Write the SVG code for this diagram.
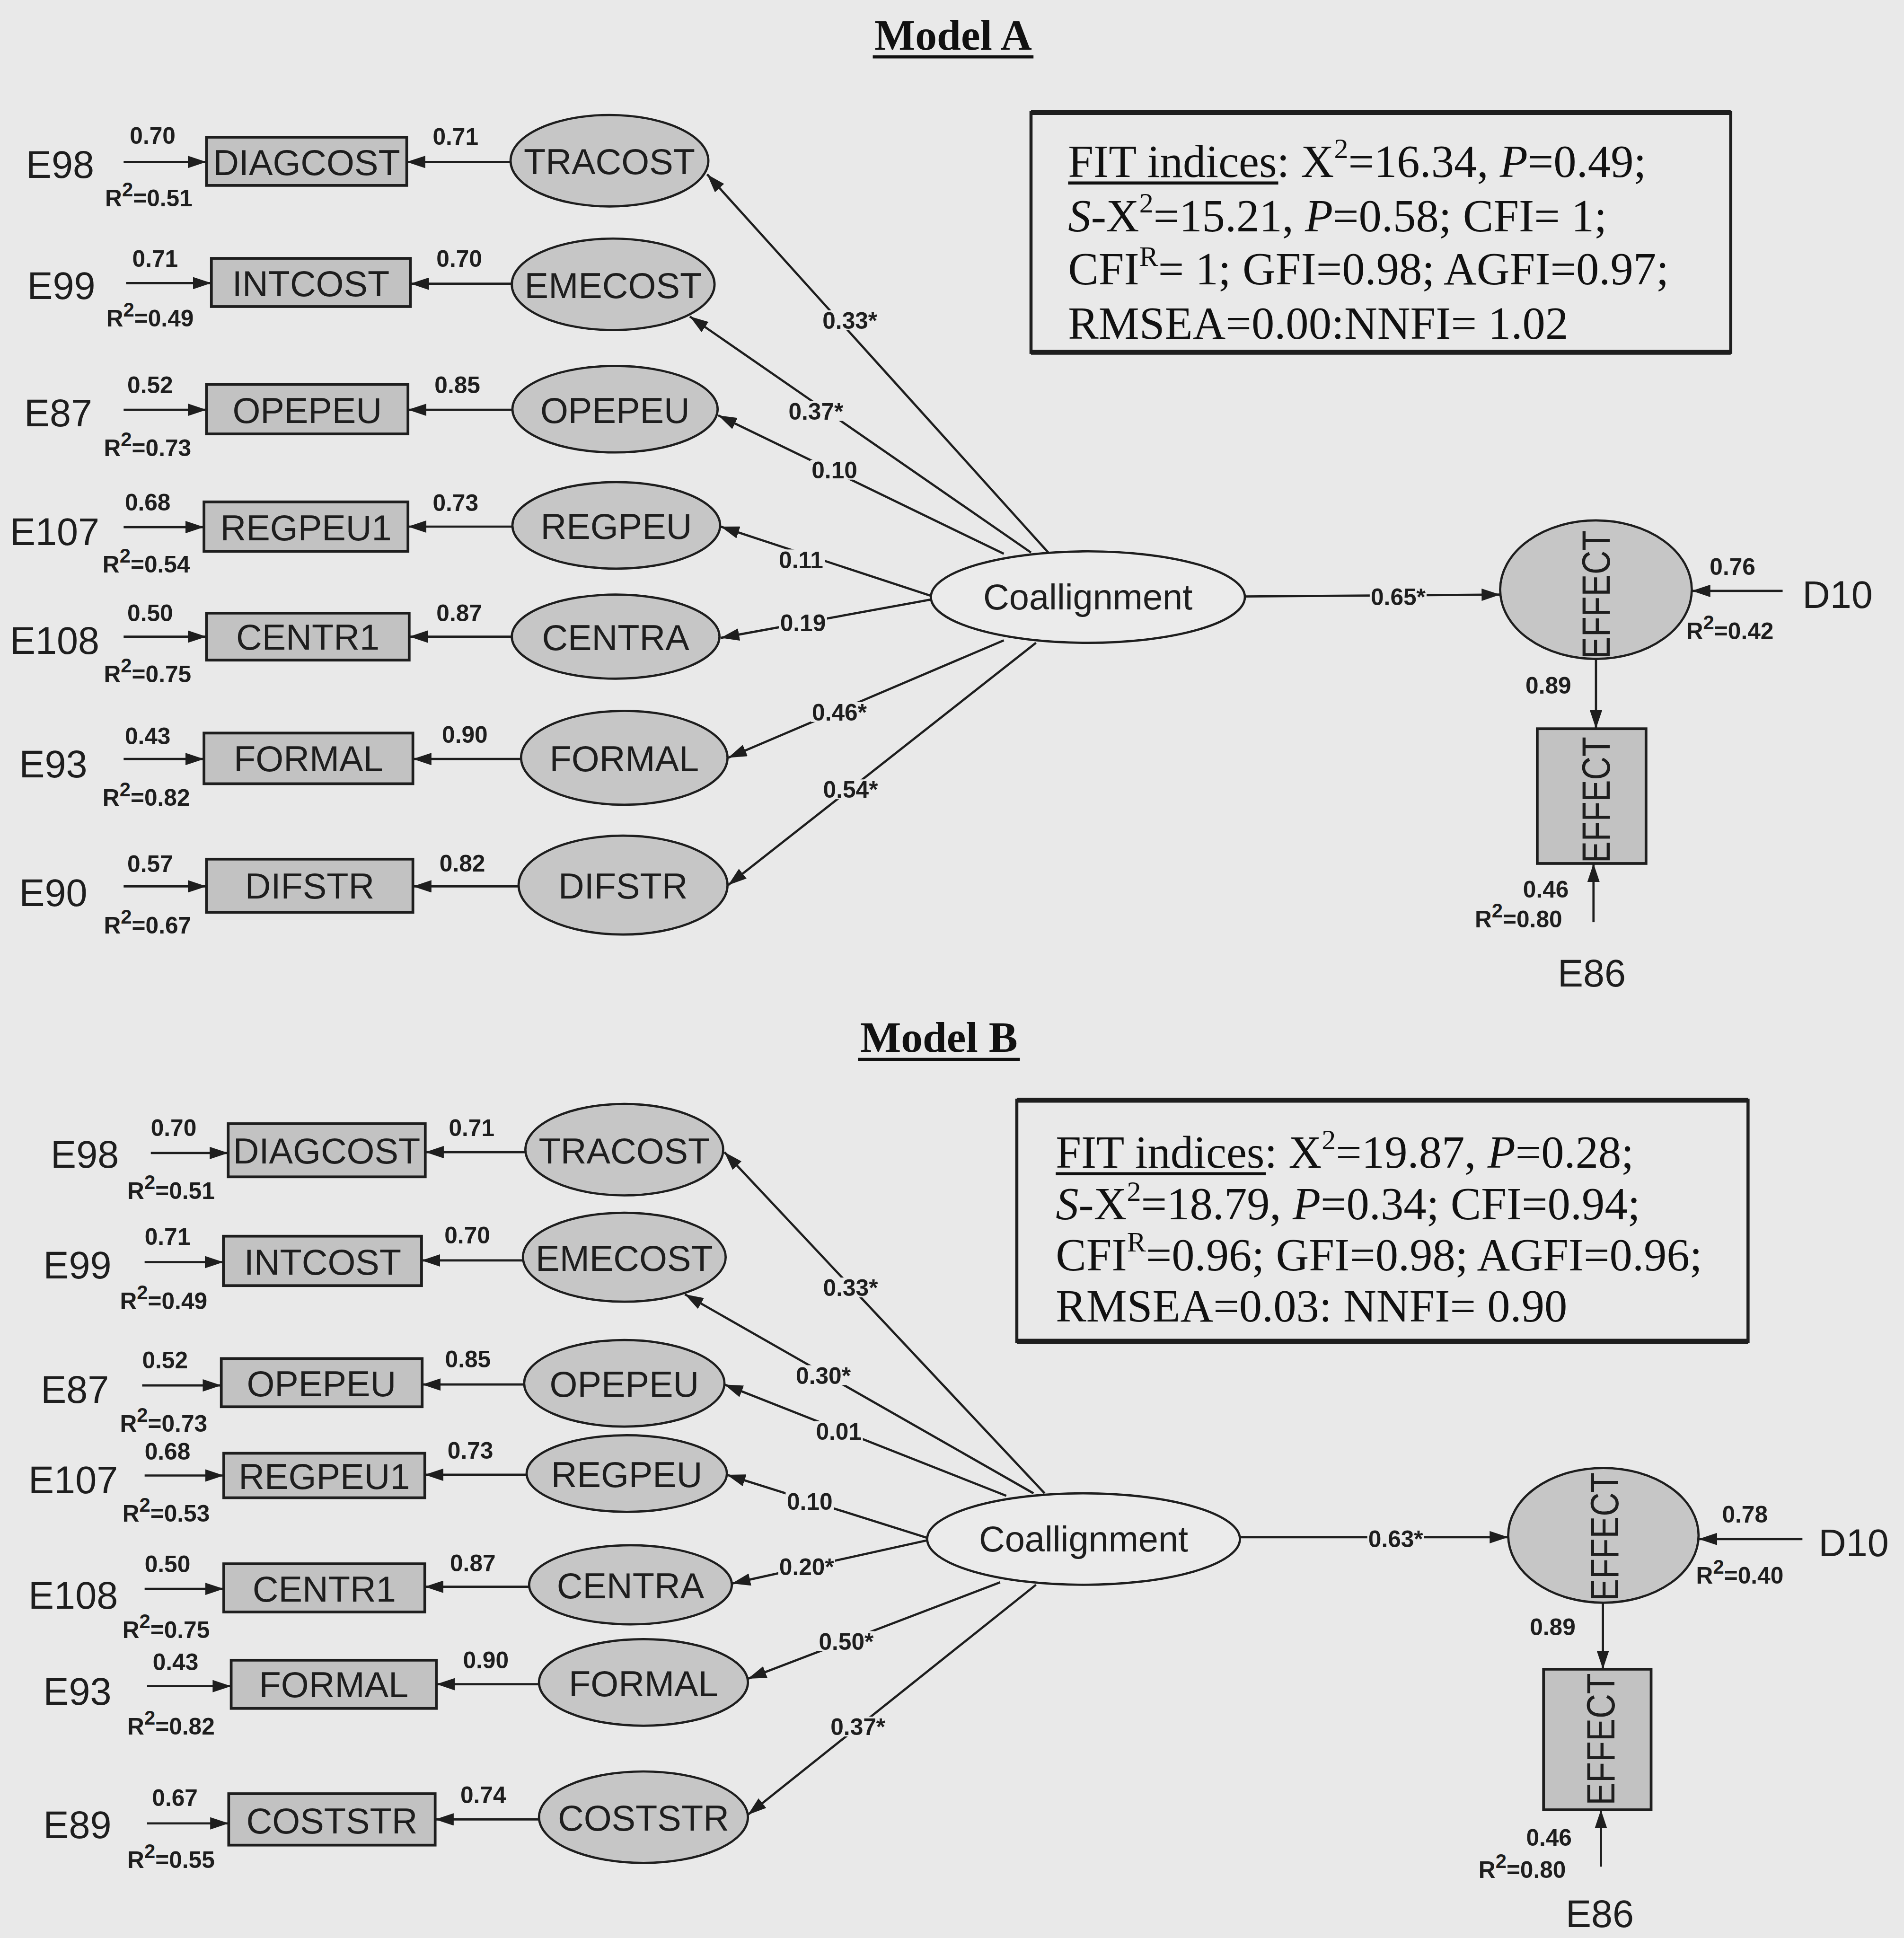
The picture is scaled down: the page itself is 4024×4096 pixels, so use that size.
<svg xmlns="http://www.w3.org/2000/svg" width="4024" height="4096" viewBox="0 0 4024 4096">
<defs>
<marker id="arr" viewBox="0 0 15 10" refX="15" refY="5" markerWidth="15" markerHeight="10" markerUnits="userSpaceOnUse" orient="auto"><path d="M0,0 L15,5 L0,10 z" fill="#1e1e1e"/></marker>
</defs>
<style>
.obs{fill:#c2c2c2;stroke:#1e1e1e;stroke-width:2.2}
.lat{fill:#c6c6c6;stroke:#1e1e1e;stroke-width:1.8}
.coal{fill:#ebebeb;stroke:#1e1e1e;stroke-width:1.8}
.lbl{font-family:"Liberation Sans",Arial,sans-serif;font-size:29px;fill:#1e1e1e;text-anchor:middle}
.elbl{font-family:"Liberation Sans",Arial,sans-serif;font-size:31px;fill:#1e1e1e}
.num{font-family:"Liberation Sans",Arial,sans-serif;font-size:19px;font-weight:bold;fill:#1e1e1e}
.pl{font-family:"Liberation Sans",Arial,sans-serif;font-size:19px;font-weight:bold;fill:#1e1e1e;text-anchor:middle}
.lb{fill:#e9e9e9}
.vt{font-family:"Liberation Sans",Arial,sans-serif;font-size:32px;fill:#1e1e1e;text-anchor:middle}
.fit{font-family:"Liberation Serif","Times New Roman",serif;font-size:37px;fill:#111}
.ttl{font-family:"Liberation Serif","Times New Roman",serif;font-size:35px;font-weight:bold;fill:#111;text-anchor:middle}
.edge{stroke:#1e1e1e;stroke-width:1.8;fill:none;marker-end:url(#arr)}
.box{fill:none;stroke:#1e1e1e;stroke-width:2.5}
.ul{stroke:#111;stroke-width:2.5}
</style>
<rect x="0" y="0" width="4024" height="4096" fill="#e9e9e9"/>
<g transform="scale(2.6127)">

<!-- ================= MODEL A ================= -->
<g id="A-title"><text class="ttl" x="771" y="40">Model A</text><line class="ul" x1="706" y1="46" x2="836" y2="46"/></g>

<g id="A-fitbox">
<rect class="box" x="834" y="91" width="566" height="194"/>
<line x1="834" y1="91" x2="1400" y2="91" stroke="#1e1e1e" stroke-width="4"/>
<line x1="834" y1="285" x2="1400" y2="285" stroke="#1e1e1e" stroke-width="4"/>
<text class="fit" x="864" y="143">FIT indices: X<tspan dy="-15" font-size="23">2</tspan><tspan dy="15">=16.34, </tspan><tspan font-style="italic">P</tspan>=0.49;</text>
<line class="ul" x1="864" y1="148" x2="1034" y2="148" stroke-width="2"/>
<text class="fit" x="864" y="187"><tspan font-style="italic">S</tspan>-X<tspan dy="-15" font-size="23">2</tspan><tspan dy="15">=15.21, </tspan><tspan font-style="italic">P</tspan>=0.58; CFI= 1;</text>
<text class="fit" x="864" y="230">CFI<tspan dy="-15" font-size="23">R</tspan><tspan dy="15">= 1; GFI=0.98; AGFI=0.97;</tspan></text>
<text class="fit" x="864" y="274">RMSEA=0.00:NNFI= 1.02</text>
</g>

<!-- error labels -->
<g id="A-E98"><text class="elbl" x="21" y="144">E98</text></g>
<g id="A-E99"><text class="elbl" x="22" y="242">E99</text></g>
<g id="A-E87"><text class="elbl" x="19.5" y="345">E87</text></g>
<g id="A-E107"><text class="elbl" x="8" y="441">E107</text></g>
<g id="A-E108"><text class="elbl" x="8" y="529">E108</text></g>
<g id="A-E93"><text class="elbl" x="15.5" y="629">E93</text></g>
<g id="A-E90"><text class="elbl" x="15.5" y="733">E90</text></g>

<!-- observed -->
<g id="A-DIAGCOST"><rect class="obs" x="167" y="111" width="162" height="39"/><text class="lbl" x="248" y="141.5">DIAGCOST</text></g>
<g id="A-INTCOST"><rect class="obs" x="171" y="209" width="161" height="39"/><text class="lbl" x="251.5" y="239.5">INTCOST</text></g>
<g id="A-OPEPEU-obs"><rect class="obs" x="167" y="311" width="163" height="40"/><text class="lbl" x="248.5" y="342">OPEPEU</text></g>
<g id="A-REGPEU1"><rect class="obs" x="165" y="406" width="165" height="40"/><text class="lbl" x="247.5" y="437">REGPEU1</text></g>
<g id="A-CENTR1"><rect class="obs" x="167" y="496" width="164" height="38"/><text class="lbl" x="249" y="525.5">CENTR1</text></g>
<g id="A-FORMAL-obs"><rect class="obs" x="165" y="593" width="169" height="41"/><text class="lbl" x="249.5" y="624">FORMAL</text></g>
<g id="A-DIFSTR-obs"><rect class="obs" x="167" y="695" width="167" height="43"/><text class="lbl" x="250.5" y="727">DIFSTR</text></g>

<!-- latent -->
<g id="A-TRACOST"><ellipse class="lat" cx="493" cy="130" rx="80" ry="37"/><text class="lbl" x="493" y="141">TRACOST</text></g>
<g id="A-EMECOST"><ellipse class="lat" cx="496" cy="230" rx="82" ry="37"/><text class="lbl" x="496" y="241">EMECOST</text></g>
<g id="A-OPEPEU"><ellipse class="lat" cx="497.5" cy="331" rx="83" ry="35"/><text class="lbl" x="497.5" y="342">OPEPEU</text></g>
<g id="A-REGPEU"><ellipse class="lat" cx="498.5" cy="425" rx="84" ry="35"/><text class="lbl" x="498.5" y="436">REGPEU</text></g>
<g id="A-CENTRA"><ellipse class="lat" cx="498" cy="515" rx="84" ry="34"/><text class="lbl" x="498" y="526">CENTRA</text></g>
<g id="A-FORMAL"><ellipse class="lat" cx="505" cy="613" rx="83.5" ry="38"/><text class="lbl" x="505" y="624">FORMAL</text></g>
<g id="A-DIFSTR"><ellipse class="lat" cx="504" cy="716" rx="84.5" ry="40"/><text class="lbl" x="504" y="727">DIFSTR</text></g>

<g id="A-Coallignment"><ellipse class="coal" cx="880" cy="483" rx="127" ry="37"/><text class="lbl" x="880" y="493" font-size="28">Coallignment</text></g>
<g id="A-EFFECT-lat"><ellipse class="lat" cx="1291" cy="477" rx="77.5" ry="56"/><text class="vt" transform="translate(1302,481) rotate(-90)" textLength="104" lengthAdjust="spacingAndGlyphs">EFFECT</text></g>
<g id="A-EFFECT-obs"><rect class="obs" x="1243.5" y="589.5" width="88" height="109"/><text class="vt" transform="translate(1302,647) rotate(-90)" textLength="102" lengthAdjust="spacingAndGlyphs">EFFECT</text></g>
<g id="A-D10"><text class="elbl" x="1458" y="492">D10</text></g>
<g id="A-E86"><text class="elbl" x="1260" y="798">E86</text></g>

<!-- connectors A -->
<g id="A-connectors">
<line class="edge" x1="100" y1="131" x2="167" y2="131"/>
<line class="edge" x1="102" y1="229" x2="171" y2="229"/>
<line class="edge" x1="100" y1="331.5" x2="167" y2="331.5"/>
<line class="edge" x1="100" y1="426.4" x2="165" y2="426.4"/>
<line class="edge" x1="100" y1="515" x2="167" y2="515"/>
<line class="edge" x1="100" y1="614" x2="165" y2="614"/>
<line class="edge" x1="100" y1="717" x2="167" y2="717"/>

<line class="edge" x1="413" y1="131" x2="329" y2="131"/>
<line class="edge" x1="414" y1="229.5" x2="332" y2="229.5"/>
<line class="edge" x1="414.5" y1="331.5" x2="330" y2="331.5"/>
<line class="edge" x1="414.5" y1="426" x2="330" y2="426"/>
<line class="edge" x1="414" y1="515" x2="331" y2="515"/>
<line class="edge" x1="421.5" y1="614" x2="334" y2="614"/>
<line class="edge" x1="419.5" y1="717" x2="334" y2="717"/>

<line class="edge" x1="848" y1="447" x2="572" y2="141"/>
<line class="edge" x1="834" y1="447" x2="558" y2="256"/>
<line class="edge" x1="812" y1="448" x2="581" y2="336"/>
<line class="edge" x1="753" y1="482" x2="583" y2="426"/>
<line class="edge" x1="753" y1="485" x2="583" y2="516"/>
<line class="edge" x1="812" y1="518" x2="589" y2="613"/>
<line class="edge" x1="838" y1="520" x2="589" y2="716"/>

<line class="edge" x1="1007" y1="482.5" x2="1213.5" y2="481"/>
<line class="edge" x1="1291" y1="533" x2="1291" y2="589.5"/>
<line class="edge" x1="1442" y1="478" x2="1368.5" y2="478"/>
<line class="edge" x1="1289" y1="746" x2="1289" y2="698.5"/>

<!-- loadings -->
<text class="num" x="105" y="116.5">0.70</text>
<text class="num" x="107" y="216">0.71</text>
<text class="num" x="103" y="318">0.52</text>
<text class="num" x="101" y="413">0.68</text>
<text class="num" x="103" y="502.5">0.50</text>
<text class="num" x="101" y="602">0.43</text>
<text class="num" x="103" y="705.5">0.57</text>

<text class="num" x="85" y="167">R<tspan dy="-8" font-size="16">2</tspan><tspan dy="8">=0.51</tspan></text>
<text class="num" x="86" y="264">R<tspan dy="-8" font-size="16">2</tspan><tspan dy="8">=0.49</tspan></text>
<text class="num" x="84" y="369">R<tspan dy="-8" font-size="16">2</tspan><tspan dy="8">=0.73</tspan></text>
<text class="num" x="83" y="463">R<tspan dy="-8" font-size="16">2</tspan><tspan dy="8">=0.54</tspan></text>
<text class="num" x="84" y="552">R<tspan dy="-8" font-size="16">2</tspan><tspan dy="8">=0.75</tspan></text>
<text class="num" x="83" y="652">R<tspan dy="-8" font-size="16">2</tspan><tspan dy="8">=0.82</tspan></text>
<text class="num" x="84" y="755">R<tspan dy="-8" font-size="16">2</tspan><tspan dy="8">=0.67</tspan></text>

<text class="num" x="350" y="117">0.71</text>
<text class="num" x="353" y="216">0.70</text>
<text class="num" x="351.5" y="318">0.85</text>
<text class="num" x="350" y="413.5">0.73</text>
<text class="num" x="353" y="502.5">0.87</text>
<text class="num" x="357.5" y="601">0.90</text>
<text class="num" x="355.5" y="705">0.82</text>

<rect class="lb" x="664.5" y="251" width="46" height="16"/><text class="pl" x="687.5" y="266">0.33*</text>
<rect class="lb" x="637" y="324.5" width="46" height="16"/><text class="pl" x="660" y="339.5">0.37*</text>
<rect class="lb" x="655.5" y="372" width="39" height="16"/><text class="pl" x="675" y="387">0.10</text>
<rect class="lb" x="628.5" y="444.5" width="39" height="16"/><text class="pl" x="648" y="459.5">0.11</text>
<rect class="lb" x="630" y="495.5" width="39" height="16"/><text class="pl" x="649.5" y="510.5">0.19</text>
<rect class="lb" x="656" y="568" width="46" height="16"/><text class="pl" x="679" y="583">0.46*</text>
<rect class="lb" x="665" y="630.5" width="46" height="16"/><text class="pl" x="688" y="645.5">0.54*</text>
<rect class="lb" x="1108" y="474.5" width="46" height="16"/><text class="pl" x="1131" y="489.5">0.65*</text>
<text class="num" x="1234" y="561">0.89</text>
<text class="num" x="1383" y="465">0.76</text>
<text class="num" x="1364" y="517">R<tspan dy="-8" font-size="16">2</tspan><tspan dy="8">=0.42</tspan></text>
<text class="num" x="1232" y="726">0.46</text>
<text class="num" x="1193" y="750">R<tspan dy="-8" font-size="16">2</tspan><tspan dy="8">=0.80</tspan></text>
</g>

<!-- ================= MODEL B ================= -->
<g id="B-title"><text class="ttl" x="759.5" y="851" font-size="36">Model B</text><line class="ul" x1="694" y1="857" x2="825" y2="857"/></g>

<g id="B-fitbox">
<rect class="box" x="822.5" y="890" width="591.5" height="195"/>
<line x1="822.5" y1="890" x2="1414" y2="890" stroke="#1e1e1e" stroke-width="4"/>
<line x1="822.5" y1="1085" x2="1414" y2="1085" stroke="#1e1e1e" stroke-width="4"/>
<text class="fit" x="854" y="944.5">FIT indices: X<tspan dy="-15" font-size="23">2</tspan><tspan dy="15">=19.87, </tspan><tspan font-style="italic">P</tspan>=0.28;</text>
<line class="ul" x1="854" y1="949.5" x2="1024" y2="949.5" stroke-width="2"/>
<text class="fit" x="854" y="986.5"><tspan font-style="italic">S</tspan>-X<tspan dy="-15" font-size="23">2</tspan><tspan dy="15">=18.79, </tspan><tspan font-style="italic">P</tspan>=0.34; CFI=0.94;</text>
<text class="fit" x="854" y="1027.5">CFI<tspan dy="-15" font-size="23">R</tspan><tspan dy="15">=0.96; GFI=0.98; AGFI=0.96;</tspan></text>
<text class="fit" x="854" y="1069">RMSEA=0.03: NNFI= 0.90</text>
</g>

<g id="B-E98"><text class="elbl" x="41" y="944.5">E98</text></g>
<g id="B-E99"><text class="elbl" x="35" y="1034">E99</text></g>
<g id="B-E87"><text class="elbl" x="33" y="1135">E87</text></g>
<g id="B-E107"><text class="elbl" x="23" y="1208">E107</text></g>
<g id="B-E108"><text class="elbl" x="23" y="1301.5">E108</text></g>
<g id="B-E93"><text class="elbl" x="35" y="1379">E93</text></g>
<g id="B-E89"><text class="elbl" x="35" y="1487">E89</text></g>

<g id="B-DIAGCOST"><rect class="obs" x="184.6" y="909" width="159.4" height="43"/><text class="lbl" x="264.3" y="941">DIAGCOST</text></g>
<g id="B-INTCOST"><rect class="obs" x="180.7" y="1000" width="160.3" height="40"/><text class="lbl" x="261" y="1031">INTCOST</text></g>
<g id="B-OPEPEU-obs"><rect class="obs" x="179" y="1099" width="162.5" height="39"/><text class="lbl" x="260" y="1129.5">OPEPEU</text></g>
<g id="B-REGPEU1"><rect class="obs" x="181" y="1175.6" width="162.6" height="36"/><text class="lbl" x="262.3" y="1204.5">REGPEU1</text></g>
<g id="B-CENTR1"><rect class="obs" x="181" y="1265" width="162.6" height="39"/><text class="lbl" x="262.3" y="1295.5">CENTR1</text></g>
<g id="B-FORMAL-obs"><rect class="obs" x="187" y="1343" width="166" height="39"/><text class="lbl" x="270" y="1373">FORMAL</text></g>
<g id="B-COSTSTR-obs"><rect class="obs" x="185" y="1451" width="167" height="41.6"/><text class="lbl" x="268.5" y="1483">COSTSTR</text></g>

<g id="B-TRACOST"><ellipse class="lat" cx="505" cy="930" rx="80" ry="37"/><text class="lbl" x="505" y="941">TRACOST</text></g>
<g id="B-EMECOST"><ellipse class="lat" cx="505" cy="1017" rx="82" ry="36"/><text class="lbl" x="505" y="1028">EMECOST</text></g>
<g id="B-OPEPEU"><ellipse class="lat" cx="505" cy="1119" rx="81" ry="35"/><text class="lbl" x="505" y="1130">OPEPEU</text></g>
<g id="B-REGPEU"><ellipse class="lat" cx="507" cy="1192" rx="81" ry="31"/><text class="lbl" x="507" y="1203">REGPEU</text></g>
<g id="B-CENTRA"><ellipse class="lat" cx="510" cy="1282" rx="82" ry="32"/><text class="lbl" x="510" y="1293">CENTRA</text></g>
<g id="B-FORMAL"><ellipse class="lat" cx="520.5" cy="1361" rx="84.5" ry="35"/><text class="lbl" x="520.5" y="1372">FORMAL</text></g>
<g id="B-COSTSTR"><ellipse class="lat" cx="520.5" cy="1470" rx="84.5" ry="37"/><text class="lbl" x="520.5" y="1481">COSTSTR</text></g>

<g id="B-Coallignment"><ellipse class="coal" cx="876.5" cy="1245" rx="126.5" ry="37"/><text class="lbl" x="876.5" y="1255" font-size="28">Coallignment</text></g>
<g id="B-EFFECT-lat"><ellipse class="lat" cx="1297" cy="1242" rx="77" ry="54.5"/><text class="vt" transform="translate(1309,1243) rotate(-90)" textLength="104" lengthAdjust="spacingAndGlyphs">EFFECT</text></g>
<g id="B-EFFECT-obs"><rect class="obs" x="1248.6" y="1350.3" width="87" height="113.7"/><text class="vt" transform="translate(1306,1407) rotate(-90)" textLength="107" lengthAdjust="spacingAndGlyphs">EFFECT</text></g>
<g id="B-D10"><text class="elbl" x="1471" y="1259">D10</text></g>
<g id="B-E86"><text class="elbl" x="1266.5" y="1559" font-size="30">E86</text></g>

<g id="B-connectors">
<line class="edge" x1="122" y1="932.7" x2="184.6" y2="932.7"/>
<line class="edge" x1="117" y1="1021" x2="180.7" y2="1021"/>
<line class="edge" x1="115" y1="1120.7" x2="179" y2="1120.7"/>
<line class="edge" x1="117" y1="1193.6" x2="181" y2="1193.6"/>
<line class="edge" x1="117" y1="1285.3" x2="181" y2="1285.3"/>
<line class="edge" x1="119" y1="1364" x2="187" y2="1364"/>
<line class="edge" x1="119" y1="1475" x2="185" y2="1475"/>

<line class="edge" x1="425" y1="932" x2="344" y2="932"/>
<line class="edge" x1="423" y1="1019.6" x2="341" y2="1019.6"/>
<line class="edge" x1="424" y1="1120" x2="341.5" y2="1120"/>
<line class="edge" x1="426" y1="1193" x2="343.6" y2="1193"/>
<line class="edge" x1="428" y1="1283.6" x2="343.6" y2="1283.6"/>
<line class="edge" x1="436" y1="1362.4" x2="353" y2="1362.4"/>
<line class="edge" x1="436" y1="1471.8" x2="352" y2="1471.8"/>

<line class="edge" x1="845" y1="1208" x2="586" y2="932"/>
<line class="edge" x1="836" y1="1208" x2="554" y2="1047"/>
<line class="edge" x1="814" y1="1210" x2="586" y2="1120"/>
<line class="edge" x1="750" y1="1244" x2="588" y2="1193"/>
<line class="edge" x1="750" y1="1246" x2="592" y2="1281"/>
<line class="edge" x1="809" y1="1280" x2="605" y2="1358"/>
<line class="edge" x1="838" y1="1282" x2="605" y2="1468"/>

<line class="edge" x1="1003" y1="1243.5" x2="1220" y2="1243.5"/>
<line class="edge" x1="1296.6" y1="1296.5" x2="1296.6" y2="1350.3"/>
<line class="edge" x1="1458" y1="1245" x2="1374" y2="1245"/>
<line class="edge" x1="1295" y1="1510" x2="1295" y2="1464"/>

<text class="num" x="122" y="919">0.70</text>
<text class="num" x="117" y="1007">0.71</text>
<text class="num" x="115" y="1107">0.52</text>
<text class="num" x="117" y="1180.7">0.68</text>
<text class="num" x="117" y="1272">0.50</text>
<text class="num" x="123.5" y="1351">0.43</text>
<text class="num" x="123" y="1461">0.67</text>

<text class="num" x="103" y="970">R<tspan dy="-8" font-size="16">2</tspan><tspan dy="8">=0.51</tspan></text>
<text class="num" x="97" y="1059">R<tspan dy="-8" font-size="16">2</tspan><tspan dy="8">=0.49</tspan></text>
<text class="num" x="97" y="1158">R<tspan dy="-8" font-size="16">2</tspan><tspan dy="8">=0.73</tspan></text>
<text class="num" x="99" y="1231">R<tspan dy="-8" font-size="16">2</tspan><tspan dy="8">=0.53</tspan></text>
<text class="num" x="99" y="1325">R<tspan dy="-8" font-size="16">2</tspan><tspan dy="8">=0.75</tspan></text>
<text class="num" x="103" y="1403">R<tspan dy="-8" font-size="16">2</tspan><tspan dy="8">=0.82</tspan></text>
<text class="num" x="103" y="1511">R<tspan dy="-8" font-size="16">2</tspan><tspan dy="8">=0.55</tspan></text>

<text class="num" x="363" y="919">0.71</text>
<text class="num" x="359.5" y="1006">0.70</text>
<text class="num" x="360" y="1106">0.85</text>
<text class="num" x="362" y="1180">0.73</text>
<text class="num" x="364" y="1271">0.87</text>
<text class="num" x="374.5" y="1349.5">0.90</text>
<text class="num" x="372.4" y="1458.7">0.74</text>

<rect class="lb" x="665" y="1033.5" width="46" height="16"/><text class="pl" x="688" y="1048.5">0.33*</text>
<rect class="lb" x="643" y="1104.4" width="46" height="16"/><text class="pl" x="666" y="1119.4">0.30*</text>
<rect class="lb" x="659" y="1149.6" width="39" height="16"/><text class="pl" x="678.5" y="1164.6">0.01</text>
<rect class="lb" x="635.5" y="1206.3" width="39" height="16"/><text class="pl" x="655" y="1221.3">0.10</text>
<rect class="lb" x="629.5" y="1259" width="46" height="16"/><text class="pl" x="652.5" y="1274">0.20*</text>
<rect class="lb" x="661.5" y="1319.5" width="46" height="16"/><text class="pl" x="684.5" y="1334.5">0.50*</text>
<rect class="lb" x="671" y="1388.7" width="46" height="16"/><text class="pl" x="694" y="1403.7">0.37*</text>
<rect class="lb" x="1106" y="1236.5" width="46" height="16"/><text class="pl" x="1129" y="1251.5">0.63*</text>
<text class="num" x="1237.5" y="1322.6">0.89</text>
<text class="num" x="1393" y="1231.5">0.78</text>
<text class="num" x="1372" y="1281">R<tspan dy="-8" font-size="16">2</tspan><tspan dy="8">=0.40</tspan></text>
<text class="num" x="1234.5" y="1493">0.46</text>
<text class="num" x="1196" y="1519">R<tspan dy="-8" font-size="16">2</tspan><tspan dy="8">=0.80</tspan></text>
</g>

</g>
</svg>
